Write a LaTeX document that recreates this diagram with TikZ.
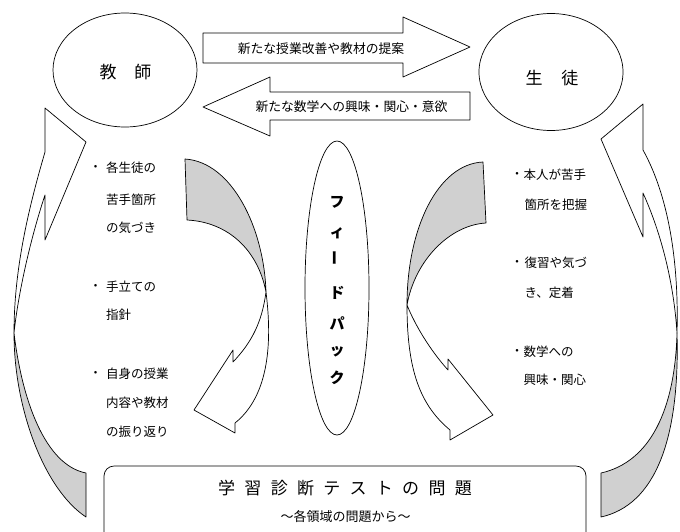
\documentclass[tikz,border=0pt]{standalone}
\usepackage{fontspec}
\usetikzlibrary{shapes.geometric}
\newfontfamily\jp{Noto Sans CJK JP}
\definecolor{shade}{RGB}{208,208,208}
\tikzset{
  ln/.style={draw=black, line width=0.7pt, line join=round},
  backface/.style={ln, fill=shade},
  frontface/.style={ln, fill=white},
  body/.style={font=\jp\fontsize{12.5}{14}\selectfont, inner sep=0pt},
  arrowtxt/.style={font=\jp\fontsize{12.8}{14}\selectfont, inner sep=0pt},
  bigtxt/.style={font=\jp\fontsize{17}{19}\selectfont, inner sep=0pt},
  fbtxt/.style={font=\jp\bfseries\fontsize{15}{16}\selectfont, inner sep=0pt},
  bullet/.style={font=\jp\fontsize{12.5}{14}\selectfont, inner sep=0pt},
}
\begin{document}
\begin{tikzpicture}[x=1pt,y=-1pt]
\useasboundingbox (0,0) rectangle (680,531);

% ellipses
\node[ln, ellipse, minimum width=144pt, minimum height=114pt, inner sep=0pt] (teacher) at (125,70) {};
\node[bigtxt] (teachertxt) at (125.5,72) {教\hspace{18pt}師};
\node[ln, ellipse, minimum width=144pt, minimum height=117pt, inner sep=0pt] (student) at (551,72) {};
\node[bigtxt] (studenttxt) at (552,78) {生\hspace{19pt}徒};

% top block arrows
\draw[frontface] (203,33) -- (403,33) -- (403,17) -- (470,47) -- (403,77) -- (403,63) -- (203,63) -- cycle;
\node[arrowtxt] (prop) at (321,49) {新たな授業改善や教材の提案};
\draw[frontface] (470,92) -- (270,92) -- (270,77) -- (203,107) -- (270,136) -- (270,120) -- (470,120) -- cycle;
\node[arrowtxt] (interest) at (351.5,107) {新たな数学への興味・関心・意欲};

% feedback ellipse
\node[ln, ellipse, minimum width=64pt, minimum height=294pt, inner sep=0pt] (fb) at (337,288) {};
\node[fbtxt] (f1) at (337,202) {フ};
\node[fbtxt] (f2) at (337,233) {ィ};
\node[fbtxt] (f3) at (337,258) {\rotatebox[origin=c]{90}{ー}};
\node[fbtxt] (f4) at (337,293) {ド};
\node[fbtxt] (f5) at (337,323) {パ};
\node[fbtxt] (f6) at (337,352) {ッ};
\node[fbtxt] (f7) at (337,378) {ク};

% left outer curved arrow
\draw[backface] (14,333) .. controls (14,410) and (45,490) .. (86,517) -- (86,473) .. controls (45,465) and (22,400) .. (14,333) -- cycle;
\draw[frontface] (14,333) .. controls (14,270) and (28,210) .. (45,152) -- (45,108) -- (86,142) -- (45,240) -- (45,195) .. controls (30,240) and (18,295) .. (14,333) -- cycle;

% right outer curved arrow
\draw[backface] (677,333) .. controls (680,440) and (655,505) .. (601,517) -- (601,473) .. controls (650,462) and (675,410) .. (677,333) -- cycle;
\draw[frontface] (677,333) .. controls (679,260) and (668,195) .. (643,150) -- (643,104) -- (601,139) -- (643,237) -- (643,193) .. controls (662,235) and (674,285) .. (677,333) -- cycle;

% inner left curved arrow
\draw[backface] (185,159) .. controls (232,162) and (264,228) .. (266,292) .. controls (258,250) and (228,222) .. (187,220) -- cycle;
\draw[frontface] (266,292) .. controls (272,340) and (270,395) .. (235,423) -- (235,433) -- (194,410) -- (233,350) -- (233,362) .. controls (252,342) and (262,322) .. (266,292) -- cycle;

% inner right curved arrow
\draw[backface] (483,162) .. controls (438,164) and (407,228) .. (407,305) .. controls (415,260) and (450,225) .. (486,223) -- cycle;
\draw[frontface] (407,305) .. controls (407,370) and (420,405) .. (450,430) -- (450,440) -- (493,415) -- (448,359) -- (448,370) .. controls (430,350) and (415,325) .. (407,305) -- cycle;

% left text block
\node[bullet] (lb1) at (95.5,168) {・};
\node[body, anchor=west] (l1) at (106,168) {各生徒の};
\node[body, anchor=west] (l2) at (106,200) {苦手箇所};
\node[body, anchor=west] (l3) at (106,228) {の気づき};
\node[bullet] (lb2) at (95.5,287) {・};
\node[body, anchor=west] (l4) at (106,287) {手立ての};
\node[body, anchor=west] (l5) at (106,315) {指針};
\node[bullet] (lb3) at (95.5,374) {・};
\node[body, anchor=west] (l6) at (106,374) {自身の授業};
\node[body, anchor=west] (l7) at (106,403) {内容や教材};
\node[body, anchor=west] (l8) at (106,432) {の振り返り};

% right text block
\node[bullet] (rb1) at (517,175) {・};
\node[body, anchor=west] (r1) at (523.5,175) {本人が苦手};
\node[body, anchor=west] (r2) at (524.5,205) {箇所を把握};
\node[bullet] (rb2) at (517,263) {・};
\node[body, anchor=west] (r3) at (524.5,263) {復習や気づ};
\node[body, anchor=west] (r4) at (524.5,293) {き、定着};
\node[bullet] (rb3) at (517,352) {・};
\node[body, anchor=west] (r5) at (523.5,352) {数学への};
\node[body, anchor=west] (r6) at (523.5,380) {興味・関心};

% bottom box
\draw[ln, fill=white, rounded corners=10pt] (104,466) rectangle (586,560);
\node[bigtxt] (title) at (345,488) {学\hspace{9.3pt}習\hspace{9.3pt}診\hspace{9.3pt}断\hspace{9.3pt}テ\hspace{9.3pt}ス\hspace{9.3pt}ト\hspace{9.3pt}の\hspace{9.3pt}問\hspace{9.3pt}題};
\node[body, font=\jp\fontsize{13}{14}\selectfont] (subtitle) at (345.5,517) {～各領域の問題から～};
\end{tikzpicture}
\end{document}
